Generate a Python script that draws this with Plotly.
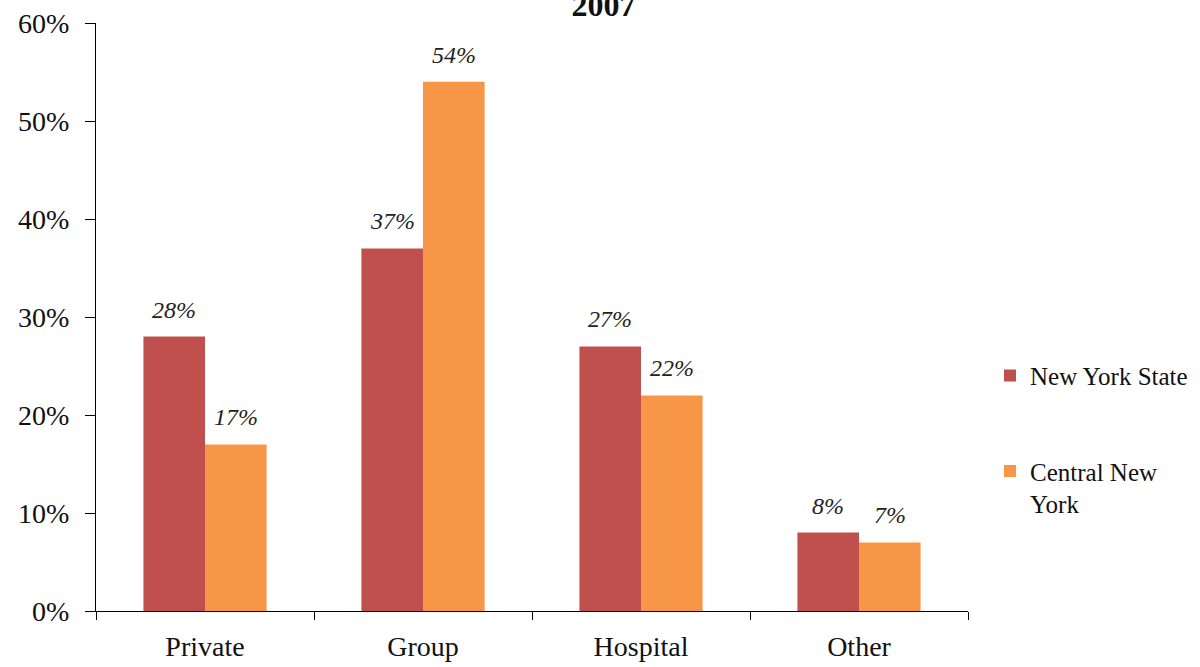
import plotly.graph_objects as go

categories = ["Private", "Group", "Hospital", "Other"]
nys_values = [28, 37, 27, 8]
cny_values = [17, 54, 22, 7]
series_names = ["New York State", "Central New<br>York"]
title_text = "2007"

RED = "#C0504D"
ORANGE = "#F79646"
FONT = "Liberation Serif"

BARGAP = 0.435
L, R, T, B = 96, 232, 23, 56
W, H = 1200, 667
cat_px = (W - L - R) / len(categories)
half = cat_px * (1 - BARGAP) / 4

fig = go.Figure()
fig.add_trace(go.Bar(x=categories, y=nys_values, name=series_names[0],
                     marker=dict(color=RED, line=dict(width=0)), legendgroup="a"))
fig.add_trace(go.Bar(x=categories, y=cny_values, name=series_names[1],
                     marker=dict(color=ORANGE, line=dict(width=0)), legendgroup="b"))

for vals, sh in ((nys_values, -half), (cny_values, half)):
    for c, v in zip(categories, vals):
        fig.add_annotation(x=c, y=v, text=f"{v}%", showarrow=False,
                           xshift=sh, yshift=27, yanchor="middle",
                           font=dict(family=FONT, size=24, color="#222", style="italic"))

fig.update_layout(
    width=W, height=H,
    margin=dict(l=L, r=R, t=T, b=B, autoexpand=False),
    font=dict(family=FONT, color="#111"),
    plot_bgcolor="white", paper_bgcolor="white",
    barmode="group", bargap=BARGAP, bargroupgap=0,
    title=dict(text=title_text, x=0.503, xanchor="center",
               y=1 - 5 / H, yref="container", yanchor="middle",
               font=dict(family=FONT, size=32, color="#111", weight="bold")),
    legend=dict(x=1 + 22 / (W - L - R), y=0.439, xanchor="left", yanchor="top",
                traceorder="grouped", tracegroupgap=60, valign="top",
                font=dict(family=FONT, size=25, color="#111"),
                itemwidth=30),
    xaxis=dict(showline=True, linecolor="#000", linewidth=1, automargin=False,
               ticks="outside", tickson="boundaries", ticklen=8, tickcolor="#000",
               tickfont=dict(family=FONT, size=28, color="#111"),
               ticklabelstandoff=10, showgrid=False),
    yaxis=dict(range=[0, 60], dtick=10, ticksuffix="%", automargin=False,
               showline=True, linecolor="#000", linewidth=1,
               ticks="outside", ticklen=10, tickcolor="#000",
               tickfont=dict(family=FONT, size=28, color="#111"),
               ticklabelstandoff=10, showgrid=False, zeroline=False),
)

fig.write_html("out.html", config={"displayModeBar": False},
               post_script="document.body.style.margin='0';")
